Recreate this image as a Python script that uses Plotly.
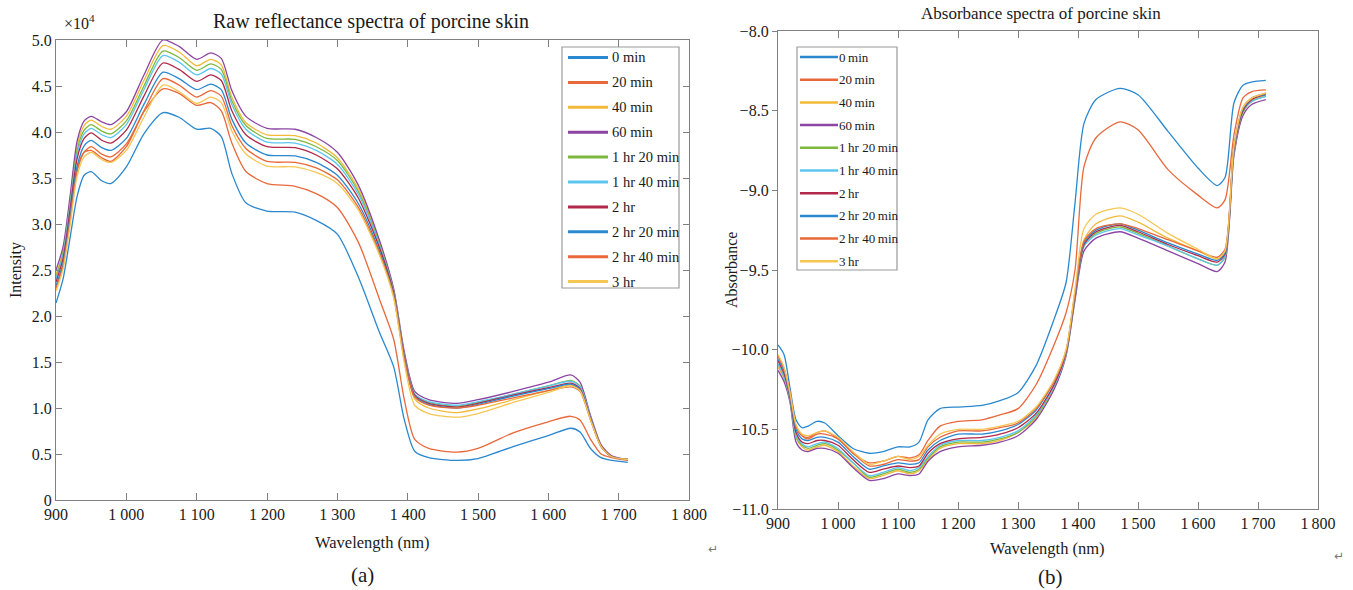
import plotly.graph_objects as go

W, H = 1353, 590

wavelength = [900, 910, 920, 930, 940, 950, 965, 978, 1000, 1025, 1052, 1075, 1100, 1120, 1135,
              1150, 1170, 1200, 1240, 1270, 1300, 1330, 1360, 1380, 1395, 1410, 1430, 1470, 1500,
              1550, 1600, 1632, 1645, 1660, 1675, 1690, 1713]

labels_a = ["0 min", "20 min", "40 min", "60 min", "1 hr 20 min", "1 hr 40 min", "2 hr",
            "2 hr 20 min", "2 hr 40 min", "3 hr"]
labels_b = ["0\u2009min", "20\u2009min", "40\u2009min", "60\u2009min", "1\u2009hr 20\u2009min",
            "1\u2009hr 40\u2009min", "2\u2009hr", "2\u2009hr 20\u2009min", "2\u2009hr 40\u2009min", "3\u2009hr"]
colors = ["#2a88cf", "#e8683a", "#f2b93a", "#8c45a3", "#7db83e", "#5cc6f0", "#b0284a",
          "#2a88cf", "#e8683a", "#f6c654"]

# Raw reflectance intensity (x 10^4)
refl_0min = [2.14, 2.40, 2.85, 3.30, 3.53, 3.57, 3.47, 3.44, 3.62, 3.98, 4.21, 4.16, 4.03, 4.04, 3.95,
             3.55, 3.23, 3.14, 3.13, 3.04, 2.89, 2.42, 1.82, 1.45, 0.88, 0.53, 0.46, 0.43, 0.45,
             0.58, 0.70, 0.78, 0.74, 0.56, 0.46, 0.43, 0.41]
refl_20min = [2.30, 2.55, 3.05, 3.60, 3.78, 3.80, 3.72, 3.68, 3.84, 4.22, 4.47, 4.42, 4.29, 4.32, 4.23,
              3.88, 3.57, 3.44, 3.41, 3.33, 3.18, 2.80, 2.18, 1.75, 1.10, 0.66, 0.56, 0.52, 0.56,
              0.73, 0.85, 0.91, 0.87, 0.66, 0.50, 0.46, 0.43]
refl_40min = [2.45, 2.70, 3.25, 3.85, 4.07, 4.13, 4.06, 4.03, 4.17, 4.56, 4.94, 4.87, 4.72, 4.79, 4.73,
              4.38, 4.10, 3.97, 3.96, 3.88, 3.72, 3.38, 2.80, 2.28, 1.58, 1.10, 1.00, 0.95, 0.99,
              1.09, 1.19, 1.25, 1.20, 0.88, 0.58, 0.47, 0.44]
refl_60min = [2.50, 2.75, 3.30, 3.90, 4.12, 4.17, 4.11, 4.08, 4.22, 4.62, 5.00, 4.93, 4.79, 4.86, 4.80,
              4.45, 4.17, 4.04, 4.03, 3.94, 3.78, 3.42, 2.82, 2.30, 1.62, 1.18, 1.09, 1.05, 1.09,
              1.18, 1.28, 1.36, 1.28, 0.92, 0.60, 0.48, 0.44]
refl_1h20 = [2.42, 2.68, 3.22, 3.80, 4.02, 4.08, 4.01, 3.98, 4.12, 4.50, 4.88, 4.81, 4.67, 4.74, 4.68,
             4.34, 4.07, 3.93, 3.92, 3.84, 3.69, 3.35, 2.78, 2.27, 1.58, 1.15, 1.06, 1.02, 1.06,
             1.15, 1.24, 1.30, 1.24, 0.90, 0.59, 0.47, 0.44]
refl_1h40 = [2.40, 2.66, 3.19, 3.76, 3.98, 4.04, 3.97, 3.94, 4.08, 4.46, 4.83, 4.76, 4.62, 4.69, 4.63,
             4.30, 4.03, 3.89, 3.88, 3.80, 3.65, 3.32, 2.76, 2.26, 1.57, 1.15, 1.07, 1.03, 1.07,
             1.15, 1.24, 1.29, 1.23, 0.90, 0.59, 0.47, 0.44]
refl_2h = [2.37, 2.62, 3.15, 3.71, 3.93, 3.99, 3.91, 3.88, 4.02, 4.39, 4.75, 4.68, 4.55, 4.62, 4.56,
           4.23, 3.97, 3.84, 3.83, 3.75, 3.60, 3.28, 2.74, 2.25, 1.56, 1.14, 1.05, 1.01, 1.05,
           1.14, 1.22, 1.27, 1.21, 0.89, 0.59, 0.47, 0.44]
refl_2h20 = [2.33, 2.57, 3.08, 3.63, 3.85, 3.91, 3.83, 3.80, 3.93, 4.30, 4.65, 4.58, 4.46, 4.52, 4.46,
             4.14, 3.88, 3.75, 3.74, 3.67, 3.53, 3.22, 2.70, 2.23, 1.55, 1.13, 1.04, 1.00, 1.04,
             1.13, 1.21, 1.26, 1.20, 0.88, 0.58, 0.47, 0.44]
refl_2h40 = [2.30, 2.54, 3.03, 3.57, 3.78, 3.84, 3.76, 3.73, 3.87, 4.23, 4.58, 4.51, 4.38, 4.45, 4.39,
             4.07, 3.82, 3.68, 3.67, 3.61, 3.48, 3.18, 2.68, 2.22, 1.54, 1.12, 1.03, 1.00, 1.03,
             1.11, 1.19, 1.23, 1.18, 0.87, 0.58, 0.47, 0.44]
refl_3h = [2.27, 2.51, 2.98, 3.52, 3.73, 3.78, 3.70, 3.67, 3.80, 4.16, 4.51, 4.44, 4.31, 4.38, 4.32,
           4.01, 3.76, 3.63, 3.62, 3.56, 3.44, 3.15, 2.66, 2.20, 1.50, 1.03, 0.94, 0.90, 0.94,
           1.06, 1.17, 1.24, 1.19, 0.87, 0.58, 0.47, 0.44]

# Absorbance
absb_0min = [-9.97, -10.03, -10.24, -10.44, -10.49, -10.48, -10.45, -10.46, -10.54, -10.62, -10.65,
             -10.64, -10.61, -10.61, -10.58, -10.44, -10.37, -10.36, -10.35, -10.32, -10.27, -10.10,
             -9.81, -9.58, -9.08, -8.58, -8.43, -8.36, -8.40, -8.63, -8.86, -8.97, -8.92, -8.45,
             -8.34, -8.32, -8.31]
absb_20min = [-10.04, -10.12, -10.27, -10.48, -10.54, -10.55, -10.52, -10.51, -10.56, -10.65, -10.71,
              -10.70, -10.67, -10.68, -10.66, -10.57, -10.48, -10.45, -10.44, -10.41, -10.37, -10.22,
              -9.97, -9.77, -9.50, -8.85, -8.67, -8.57, -8.62, -8.87, -9.03, -9.11, -9.06, -8.65,
              -8.42, -8.38, -8.37]
absb_40min = [-10.11, -10.18, -10.31, -10.55, -10.61, -10.63, -10.61, -10.60, -10.64, -10.73, -10.81,
              -10.79, -10.76, -10.78, -10.76, -10.69, -10.62, -10.59, -10.59, -10.57, -10.52, -10.43,
              -10.24, -10.03, -9.67, -9.31, -9.21, -9.16, -9.20, -9.30, -9.38, -9.43, -9.39, -8.74,
              -8.50, -8.44, -8.40]
absb_60min = [-10.13, -10.20, -10.33, -10.58, -10.63, -10.64, -10.62, -10.62, -10.65, -10.74, -10.82,
              -10.81, -10.78, -10.79, -10.78, -10.70, -10.64, -10.61, -10.60, -10.58, -10.54, -10.44,
              -10.25, -10.04, -9.69, -9.38, -9.30, -9.26, -9.30, -9.38, -9.46, -9.51, -9.45, -8.78,
              -8.53, -8.46, -8.43]
absb_1h20 = [-10.09, -10.17, -10.31, -10.55, -10.60, -10.62, -10.60, -10.59, -10.63, -10.71, -10.80,
             -10.78, -10.75, -10.77, -10.75, -10.68, -10.61, -10.58, -10.58, -10.56, -10.52, -10.42,
             -10.23, -10.03, -9.67, -9.35, -9.27, -9.23, -9.27, -9.35, -9.43, -9.47, -9.42, -8.76,
             -8.51, -8.44, -8.41]
absb_1h40 = [-10.09, -10.17, -10.31, -10.54, -10.59, -10.61, -10.59, -10.58, -10.62, -10.71, -10.79,
             -10.77, -10.74, -10.76, -10.74, -10.67, -10.60, -10.57, -10.57, -10.55, -10.51, -10.41,
             -10.23, -10.03, -9.66, -9.35, -9.28, -9.24, -9.28, -9.35, -9.43, -9.47, -9.41, -8.75,
             -8.50, -8.44, -8.41]
absb_2h = [-10.07, -10.15, -10.30, -10.52, -10.58, -10.59, -10.57, -10.57, -10.60, -10.69, -10.77,
           -10.75, -10.73, -10.74, -10.73, -10.65, -10.59, -10.56, -10.55, -10.53, -10.49, -10.40,
           -10.22, -10.02, -9.66, -9.34, -9.26, -9.22, -9.26, -9.34, -9.41, -9.45, -9.40, -8.74,
           -8.50, -8.43, -8.40]
absb_2h20 = [-10.06, -10.13, -10.29, -10.50, -10.56, -10.57, -10.55, -10.55, -10.58, -10.67, -10.75,
             -10.73, -10.71, -10.72, -10.71, -10.63, -10.57, -10.53, -10.53, -10.51, -10.47, -10.38,
             -10.20, -10.01, -9.65, -9.33, -9.25, -9.21, -9.25, -9.33, -9.40, -9.44, -9.39, -8.73,
             -8.49, -8.42, -8.40]
absb_2h40 = [-10.04, -10.12, -10.28, -10.48, -10.54, -10.56, -10.53, -10.53, -10.56, -10.65, -10.73,
             -10.72, -10.69, -10.70, -10.69, -10.61, -10.55, -10.51, -10.51, -10.49, -10.46, -10.37,
             -10.20, -10.01, -9.64, -9.32, -9.24, -9.21, -9.24, -9.31, -9.38, -9.42, -9.37, -8.72,
             -8.48, -8.42, -8.39]
absb_3h = [-10.03, -10.11, -10.27, -10.47, -10.53, -10.54, -10.52, -10.51, -10.55, -10.64, -10.72,
           -10.70, -10.67, -10.69, -10.67, -10.60, -10.53, -10.50, -10.50, -10.48, -10.45, -10.36,
           -10.19, -10.00, -9.62, -9.24, -9.15, -9.11, -9.15, -9.27, -9.37, -9.43, -9.38, -8.72,
           -8.48, -8.42, -8.39]

refl_series = [refl_0min, refl_20min, refl_40min, refl_60min, refl_1h20, refl_1h40, refl_2h,
               refl_2h20, refl_2h40, refl_3h]
absb_series = [absb_0min, absb_20min, absb_40min, absb_60min, absb_1h20, absb_1h40, absb_2h,
               absb_2h20, absb_2h40, absb_3h]

x_ticks = [900, 1000, 1100, 1200, 1300, 1400, 1500, 1600, 1700, 1800]
x_ticktext_a = ["900", "1 000", "1 100", "1 200", "1 300", "1 400", "1 500", "1 600", "1 700", "1 800"]
x_ticktext_b = ["900", "1\u2009000", "1\u2009100", "1\u2009200", "1\u2009300", "1\u2009400",
                "1\u2009500", "1\u2009600", "1\u2009700", "1\u2009800"]
y_ticks_a = [0, 0.5, 1.0, 1.5, 2.0, 2.5, 3.0, 3.5, 4.0, 4.5, 5.0]
y_ticktext_a = ["0", "0.5", "1.0", "1.5", "2.0", "2.5", "3.0", "3.5", "4.0", "4.5", "5.0"]
y_ticks_b = [-11.0, -10.5, -10.0, -9.5, -9.0, -8.5, -8.0]

FONT = "Liberation Serif"
TXT = "#1a1a1a"
AX = "#808080"


def px(x):
    return x / W


def py(y):
    return 1 - y / H


fig = go.Figure()
for name, col, ys in zip(labels_a, colors, refl_series):
    fig.add_trace(go.Scatter(x=wavelength, y=ys, mode="lines", name=name, showlegend=False,
                             line=dict(color=col, width=1.3, shape="spline", smoothing=0.7),
                             xaxis="x", yaxis="y"))
for name, col, ys in zip(labels_b, colors, absb_series):
    fig.add_trace(go.Scatter(x=wavelength, y=ys, mode="lines", name=name, showlegend=False,
                             line=dict(color=col, width=1.3, shape="spline", smoothing=0.7),
                             xaxis="x2", yaxis="y2"))

axis_common = dict(showline=True, linecolor=AX, linewidth=1.3, showgrid=False, zeroline=False,
                   automargin=False, tickcolor=AX, tickwidth=1,
                   tickfont=dict(family=FONT, size=16, color=TXT))

fig.update_layout(
    width=W, height=H, margin=dict(l=0, r=0, t=0, b=0, pad=0, autoexpand=False),
    paper_bgcolor="white", plot_bgcolor="white", showlegend=False,
    xaxis=dict(domain=[px(56), px(689)], range=[900, 1800], tickvals=x_ticks, ticktext=x_ticktext_a,
               ticks="inside", ticklen=7, mirror="ticks", anchor="y", **axis_common),
    yaxis=dict(domain=[py(500), py(40)], range=[0, 5.0], tickvals=y_ticks_a, ticktext=y_ticktext_a,
               ticks="inside", ticklen=6, mirror="ticks", anchor="x", **axis_common),
    xaxis2=dict(domain=[px(778), px(1318)], range=[900, 1800], tickvals=x_ticks, ticktext=x_ticktext_b,
                ticks="inside", ticklen=7, mirror="ticks", anchor="y2", **axis_common),
    yaxis2=dict(domain=[py(509), py(31)], range=[-11.0, -8.0], tickvals=y_ticks_b, tickformat=".1f",
                ticks="outside", ticklen=5, mirror=True, anchor="x2", **axis_common),
)

shapes = []
annotations = []


def txt(s, x, y, size, xanchor="center", yanchor="middle", angle=0, color=TXT, family=FONT):
    annotations.append(dict(text=s, x=px(x), y=py(y), xref="paper", yref="paper", showarrow=False,
                            xanchor=xanchor, yanchor=yanchor, textangle=angle,
                            font=dict(family=family, size=size, color=color)))


def legend_box(x0, y0, x1, y1, row0, step, lx0, lx1, tx, fs, lw, labels):
    shapes.append(dict(type="rect", xref="paper", yref="paper", x0=px(x0), x1=px(x1),
                       y0=py(y1), y1=py(y0), line=dict(color="#9a9a9a", width=1.2),
                       fillcolor="white", layer="above"))
    for i, (lab, col) in enumerate(zip(labels, colors)):
        y = row0 + i * step
        shapes.append(dict(type="line", xref="paper", yref="paper", x0=px(lx0), x1=px(lx1),
                           y0=py(y), y1=py(y), line=dict(color=col, width=lw), layer="above"))
        txt(lab, tx, y, fs, xanchor="left")


legend_box(562, 47, 679, 288, 57.5, 24.9, 568, 608, 610, 14.5, 3, labels_a)
legend_box(797, 47, 897, 270, 57, 22.7, 800, 838, 837, 13, 2.5, labels_b)

# titles and axis labels
txt("Raw reflectance spectra of porcine skin", 371, 22, 20)
txt("×10<sup>4</sup>", 62, 22, 16, xanchor="left")
txt("Absorbance spectra of porcine skin", 1041, 14, 17)
txt("Intensity", 16, 270, 16, angle=-90)
txt("Absorbance", 731, 270, 16, angle=-90)
txt("Wavelength (nm)", 372, 542, 16.5)
txt("Wavelength (nm)", 1047, 548, 16.5)
txt("(a)", 362, 575, 21)
txt("(b)", 1050, 577, 21)
txt("\u21b5", 713, 549, 12, color="#777777", family="DejaVu Sans")
txt("\u21b5", 1339, 556, 12, color="#777777", family="DejaVu Sans")

fig.update_layout(shapes=shapes, annotations=annotations)
fig.write_html("out.html")
